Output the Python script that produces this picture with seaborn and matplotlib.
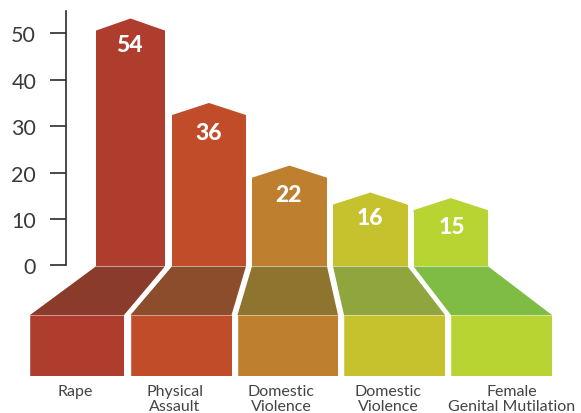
import matplotlib
matplotlib.use("Agg")
import matplotlib.pyplot as plt
import seaborn as sns

# Data
categories = ["Rape", "Physical\nAssault", "Domestic\nViolence", "Domestic\nViolence", "Female\nGenital Mutilation"]
shown_values = [54, 36, 22, 16, 15]
bar_peaks = [53.2, 35.0, 21.5, 15.7, 14.5]
yticks = [0, 10, 20, 30, 40, 50]

# Styling / geometry (pixel-based x scale)
bar_left = [96, 172, 252, 333, 413.5]
bar_right = [165, 246, 327, 407.5, 488]
base_left = [30, 130.5, 237.5, 344, 451]
base_right = [124, 231.5, 338, 445, 552]
label_x = [75, 175, 281, 388, 512]
value_x = [129, 209, 289, 370, 452]
value_offset = [5.5, 6.4, 6.2, 5.4, 6.1]
front_colors = ["#AE3D2E", "#C04C2A", "#BE7F2E", "#C6C22E", "#B8D433"]
band_colors = ["#8A3B2B", "#8B4D2B", "#8F7430", "#90A53E", "#7EBC44"]
cap = 2.6
floor_top = -0.2
band_bottom = -10.7
base_bottom = -23.75
ink = "#2b2b2b"
font = "Lato"

W, H = 581, 414
fig = plt.figure(figsize=(W / 100, H / 100), dpi=100)
ax = fig.add_axes([0, 36 / H, 1, 378 / H])
sns.set_style("white")
plt.rcParams["font.family"] = font

shoulders = [p - cap for p in bar_peaks]
centers = [(a + b) / 2 for a, b in zip(bar_left, bar_right)]
sns.barplot(x=centers, y=shoulders, hue=centers, palette=front_colors, native_scale=True,
            legend=False, dodge=False, ax=ax, linewidth=0, saturation=1)
for patch, a, b in zip(ax.patches, bar_left, bar_right):
    patch.set_x(a)
    patch.set_width(b - a)
    patch.set_y(floor_top)
    patch.set_height(patch.get_height() - floor_top)

for i in range(len(categories)):
    a, b = bar_left[i], bar_right[i]
    c, d = base_left[i], base_right[i]
    # roof (overlaps the bar a little to avoid a seam)
    ax.fill([a, (a + b) / 2, b, b, a],
            [shoulders[i], bar_peaks[i], shoulders[i], shoulders[i] - 0.5, shoulders[i] - 0.5],
            color=front_colors[i], lw=0)
    # receding floor band
    ax.fill([a, b, d, c], [floor_top, floor_top, band_bottom, band_bottom], color=band_colors[i], lw=0)
    # front base
    ax.fill([c, d, d, c], [band_bottom, band_bottom, base_bottom, base_bottom],
            color=front_colors[i], lw=0)
    ax.plot([c, d], [band_bottom, band_bottom], color="white", alpha=0.3, lw=0.8)
    ax.plot([a, b], [floor_top, floor_top], color="white", alpha=0.3, lw=0.8)
    ax.plot([c, d, d, c, c], [base_bottom, base_bottom, band_bottom, band_bottom, base_bottom],
            color="white", alpha=0.25, lw=0.6)
    ax.text(value_x[i], bar_peaks[i] - value_offset[i], str(shown_values[i]), color="white",
            ha="center", va="center", fontsize=16.5, fontweight="black", family=font)

ax.set_xlim(0, W)
ax.set_ylim(-24.05, 57.4)

for s in ["top", "right", "bottom"]:
    ax.spines[s].set_visible(False)
ax.spines["left"].set_position(("data", 66))
ax.spines["left"].set_bounds(0, 54.8)
ax.spines["left"].set_linewidth(1.2)
ax.spines["left"].set_color(ink)

ax.set_yticks(yticks)
ax.set_yticklabels([str(t) for t in yticks], fontsize=15.5, color="#3a3a3a", family=font, fontweight="normal")
ax.tick_params(axis="y", length=11.5, width=1.2, color=ink, pad=10, left=True, direction="out")
ax.set_xticks(label_x)
ax.set_xticklabels(categories, fontsize=11.5, color="#444444", family=font, linespacing=1.1, ha="center")
ax.tick_params(axis="x", length=0, pad=5)

ax.patch.set_alpha(0)
ax.set_xlabel("")
ax.set_ylabel("")

fig.savefig("out.png", dpi=100, facecolor="white")
